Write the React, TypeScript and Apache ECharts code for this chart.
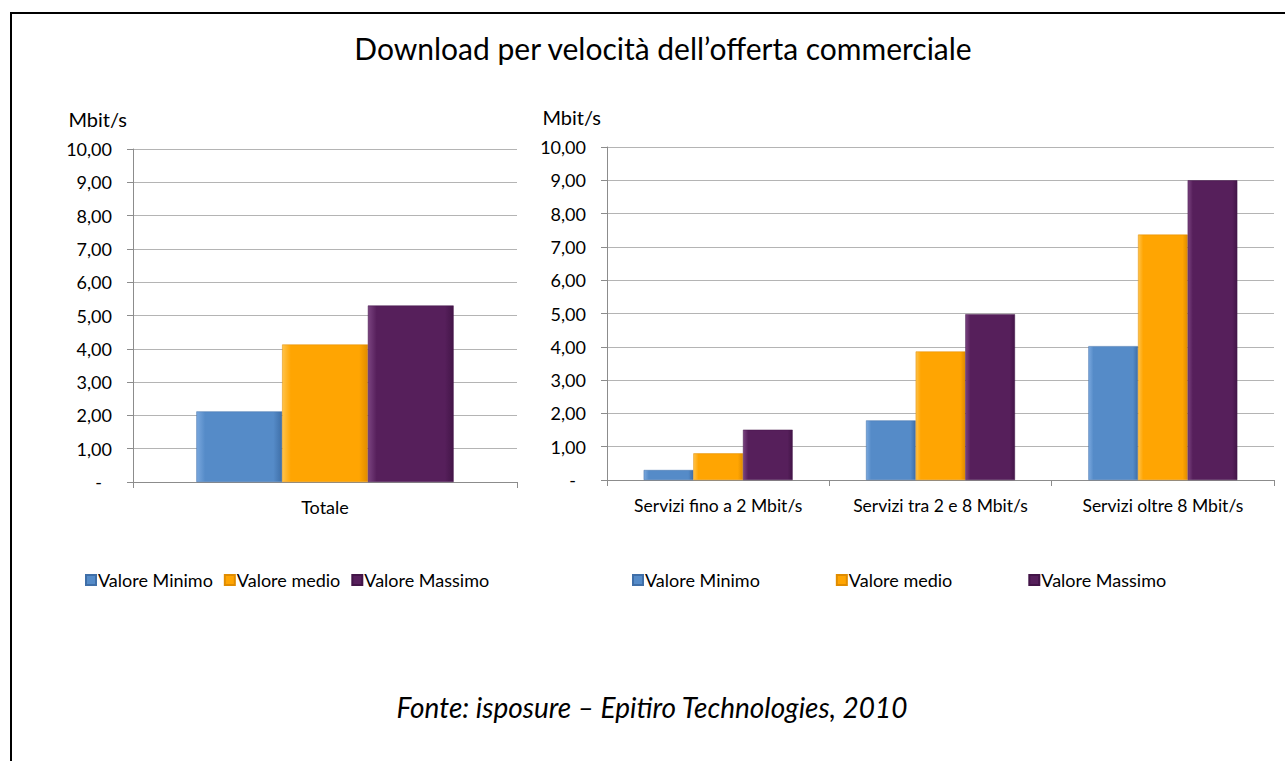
import React, { useEffect, useRef } from "react";
import * as echarts from "echarts";

const leftCategories = ["Totale"];
const rightCategories = [
  "Servizi fino a 2 Mbit/s",
  "Servizi tra 2 e 8 Mbit/s",
  "Servizi oltre 8 Mbit/s",
];
const seriesNames = ["Valore Minimo", "Valore medio", "Valore Massimo"];
const leftMin = [2.12];
const leftMed = [4.13];
const leftMax = [5.3];
const rightMin = [0.3, 1.79, 4.02];
const rightMed = [0.8, 3.86, 7.37];
const rightMax = [1.51, 4.98, 9.0];
const yTicks = { min: 0, max: 10, interval: 1 };

const baseColors = ["#558BC8", "#FFA502", "#561F5B"];
const lightColors = ["#7AA8DE", "#FFC34A", "#7A4380"];
const darkColors = ["#3F6FA8", "#E08C00", "#431548"];

const FONT = "Lato, 'Open Sans', sans-serif";

function barStyle(i: number) {
  return {
    color: new echarts.graphic.LinearGradient(0, 0, 1, 0, [
      { offset: 0, color: lightColors[i] },
      { offset: 0.1, color: baseColors[i] },
      { offset: 0.9, color: baseColors[i] },
      { offset: 1, color: darkColors[i] },
    ]),
    borderColor: darkColors[i],
    borderWidth: 0.5,
  };
}

const yLabelFormatter = (v: number) =>
  v === 0 ? "{d|-}" : v.toFixed(2).replace(".", ",");

function yAxis(gridIndex: number) {
  return {
    type: "value",
    gridIndex,
    min: yTicks.min,
    max: yTicks.max,
    interval: yTicks.interval,
    name: "Mbit/s",
    nameLocation: "end",
    nameGap: 20,
    nameTextStyle: {
      fontFamily: FONT,
      fontSize: 20,
      color: "#000",
      align: "right",
      padding: [0, 6, 0, 0],
    },
    axisLine: { show: true, lineStyle: { color: "#8c8c8c", width: 1 } },
    axisTick: { show: true, length: 6, lineStyle: { color: "#8c8c8c" } },
    splitLine: { show: true, lineStyle: { color: "#b4b4b4", width: 1 } },
    axisLabel: {
      fontFamily: FONT,
      fontSize: 18,
      color: "#000",
      margin: 21,
      formatter: yLabelFormatter,
      rich: {
        d: { fontFamily: FONT, fontSize: 18, color: "#000", padding: [0, 10, 0, 0] },
      },
    },
  };
}

function xAxis(gridIndex: number, data: string[], fontSize: number) {
  return {
    type: "category",
    gridIndex,
    data,
    axisLine: { show: true, lineStyle: { color: "#8c8c8c", width: 1 } },
    axisTick: { show: true, length: 6, alignWithLabel: false, lineStyle: { color: "#8c8c8c" } },
    axisLabel: {
      fontFamily: FONT,
      fontSize,
      color: "#000",
      margin: 16,
      interval: 0,
      hideOverlap: false,
    },
  };
}

export default function App() {
  const ref = useRef<HTMLDivElement>(null);
  useEffect(() => {
    if (!ref.current) return;
    const chart = echarts.init(ref.current, undefined, { renderer: "svg" });
    const leftData = [leftMin, leftMed, leftMax];
    const rightData = [rightMin, rightMed, rightMax];
    const series: any[] = [];
    seriesNames.forEach((name, i) => {
      series.push({
        type: "bar",
        name,
        xAxisIndex: 0,
        yAxisIndex: 0,
        data: leftData[i],
        barGap: "0%",
        barCategoryGap: "33%",
        itemStyle: barStyle(i),
      });
    });
    seriesNames.forEach((name, i) => {
      series.push({
        type: "bar",
        name,
        xAxisIndex: 1,
        yAxisIndex: 1,
        data: rightData[i],
        barGap: "0%",
        barCategoryGap: "33%",
        itemStyle: barStyle(i),
      });
    });
    chart.setOption({
      animation: false,
      backgroundColor: "#fff",
      title: {
        text: "Download per velocità dell’offerta commerciale",
        left: 658,
        textAlign: "center",
        top: 28,
        textStyle: { fontFamily: FONT, fontSize: 30, fontWeight: "normal", color: "#000" },
      },
      grid: [
        { left: 133, top: 149, width: 384, height: 333 },
        { left: 607, top: 147, width: 667, height: 333 },
      ],
      xAxis: [xAxis(0, leftCategories, 18), xAxis(1, rightCategories, 17.5)],
      yAxis: [yAxis(0), yAxis(1)],
      legend: [
        {
          data: seriesNames,
          left: 80,
          top: 566,
          itemWidth: 10,
          itemHeight: 10,
          itemGap: 11,
          icon: "rect",
          textStyle: { fontFamily: FONT, fontSize: 18, color: "#000", padding: [0, 0, 0, -3] },
        },
        {
          data: seriesNames,
          left: 627,
          top: 566,
          itemWidth: 10,
          itemHeight: 10,
          itemGap: 76,
          icon: "rect",
          textStyle: { fontFamily: FONT, fontSize: 18, color: "#000", padding: [0, 0, 0, -3] },
        },
      ],
      series,
      graphic: [
        {
          type: "line",
          shape: { x1: 10, y1: 13, x2: 1285, y2: 13 },
          style: { stroke: "#000", lineWidth: 2 },
        },
        {
          type: "line",
          shape: { x1: 11, y1: 12, x2: 11, y2: 761 },
          style: { stroke: "#000", lineWidth: 2 },
        },
        {
          type: "text",
          x: 652,
          y: 707,
          style: {
            text: "Fonte: isposure – Epitiro Technologies, 2010",
            fontFamily: FONT,
            fontSize: 28,
            fontStyle: "italic",
            fill: "#000",
            textAlign: "center",
            textVerticalAlign: "middle",
          },
        },
      ],
    });
    return () => chart.dispose();
  }, []);
  return (
    <div
      ref={ref}
      style={{ position: "fixed", left: 0, top: 0, width: 1285, height: 761 }}
    />
  );
}
